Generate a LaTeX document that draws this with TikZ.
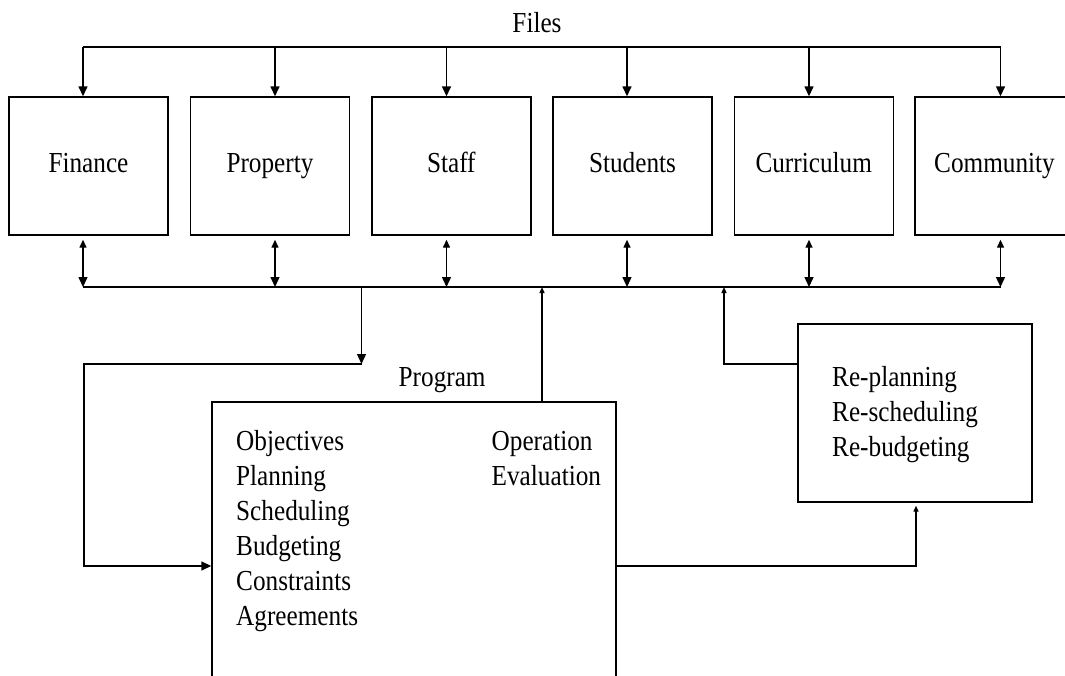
\documentclass[tikz,border=0pt]{standalone}
\usepackage{fontspec}
\setmainfont{Liberation Serif}[FakeStretch=0.87]
\usetikzlibrary{arrows.meta}
\tikzset{
  conn/.style={line width=1.4pt},
  filebox/.style={draw, conn, minimum width=159pt, minimum height=138pt, inner sep=0pt, text height=20pt, text depth=7pt},
  bigbox/.style={draw, conn, inner sep=0pt},
  txt/.style={inner sep=0pt, anchor=base west},
  bigarr/.style={conn, -{Triangle[length=10pt,width=9pt]}},
  dblarr/.style={conn, {Triangle[length=8pt,width=7pt]}-{Triangle[length=10pt,width=9pt]}},
  tinyarr/.style={conn, -{Triangle[length=6pt,width=5pt]}},
}
\newcommand{\stacklines}[1]{\vtop{\baselineskip=35pt\lineskiplimit=0pt #1}}
\begin{document}
\begin{tikzpicture}[x=1pt,y=-1pt,font=\fontsize{29}{35}\selectfont]
\useasboundingbox (0,0) rectangle (1065,675);
\fill[white] (0,0) rectangle (1065,675);

% file boxes
\node[filebox] (fin)  at (88.5,166)  {Finance};
\node[filebox] (prop) at (270,166)   {Property};
\node[filebox] (staff) at (451.3,166) {Staff};
\node[filebox] (stud) at (632.5,166) {Students};
\node[filebox] (curr) at (813.7,166) {Curriculum};
\node[filebox] (comm) at (994.5,166) {Community};

\node[inner sep=0pt, anchor=base] (files) at (537,32) {Files};

% top distribution line
\coordinate (t1) at (83,47);
\coordinate (t2) at (275,47);
\coordinate (t3) at (446.5,47);
\coordinate (t4) at (627,47);
\coordinate (t5) at (809,47);
\coordinate (t6) at (1000.5,47);
\draw[conn] (t1) -- (t6);
\foreach \t/\b in {t1/fin,t2/prop,t3/staff,t4/stud,t5/curr,t6/comm}
  \draw[bigarr] (\t) -- (\t |- \b.north);

% bottom bus
\coordinate (b1) at (83,287);
\coordinate (b2) at (275,287);
\coordinate (b3) at (446.5,287);
\coordinate (b4) at (627,287);
\coordinate (b5) at (809,287);
\coordinate (b6) at (1000.5,287);
\draw[conn] (b1) -- (b6);
\foreach \t/\b in {b1/fin,b2/prop,b3/staff,b4/stud,b5/curr,b6/comm}
  \draw[dblarr, shorten <=4pt] (\t |- \b.south) -- (\t);

% program box
\node[bigbox, minimum width=404pt, minimum height=282pt] (prog) at (414,543) {};
\node[txt] (progT) at (398.5,386) {Program};
\node[txt] (progL) at (236,450) {\stacklines{\hbox{Objectives}\hbox{Planning}\hbox{Scheduling}\hbox{Budgeting}\hbox{Constraints}\hbox{Agreements}}};
\node[txt] (progR) at (491.5,450) {\stacklines{\hbox{Operation}\hbox{Evaluation}}};

% re-planning box
\node[bigbox, minimum width=234pt, minimum height=178pt] (re) at (915,413) {};
\node[txt] (reT) at (832,386.7) {\stacklines{\hbox{Re-planning}\hbox{Re-scheduling}\hbox{Re-budgeting}}};

% bus to program
\coordinate (dn) at (361.5,287);
\coordinate (c1) at (361.5,364);
\coordinate (c2) at (84,566);
\draw[bigarr] (dn) -- (c1);
\draw[bigarr] (c1) -| (c2) -- (prog.west |- c2);

% program to bus
\coordinate (u1) at (542,287);
\draw[tinyarr] (prog.north -| u1) -- (u1);

% program to re-planning
\coordinate (rr) at (916,566);
\draw[tinyarr, shorten >=3pt] (prog.east |- rr) -- (rr) -- (rr |- re.south);

% re-planning to bus
\coordinate (rl) at (724,364);
\coordinate (u2) at (724,287);
\draw[tinyarr] (re.west |- rl) -- (rl) -- (u2);
\end{tikzpicture}
\end{document}
